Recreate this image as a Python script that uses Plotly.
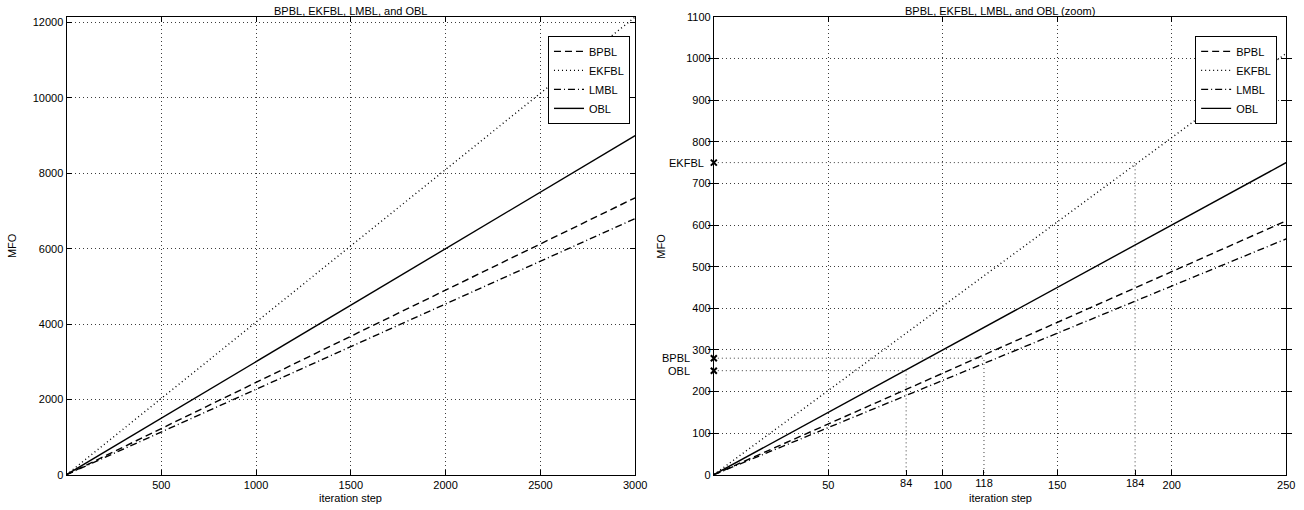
import plotly.graph_objects as go

# MFO per algorithm, sampled at iteration steps
steps = [0, 250, 500, 1000, 1500, 2000, 2500, 3000]
mfo_bpbl = [0, 610, 1225, 2450, 3675, 4900, 6125, 7350]
mfo_ekfbl = [0, 1012, 2025, 4050, 6075, 8100, 10125, 12150]
mfo_lmbl = [0, 567, 1133, 2267, 3400, 4533, 5667, 6800]
mfo_obl = [0, 750, 1500, 3000, 4500, 6000, 7500, 9000]

# reference levels marked on the zoomed panel (name, MFO level, iteration step)
ref_names = ["BPBL", "EKFBL", "OBL"]
ref_levels = [280, 750, 250]
ref_steps = [118, 184, 84]
ref_label_shift = [-22, -8, -22]

left_xticks = [500, 1000, 1500, 2000, 2500, 3000]
left_yticks = [0, 2000, 4000, 6000, 8000, 10000, 12000]
right_xticks = [50, 100, 150, 200, 250]
right_yticks = [0, 100, 200, 300, 400, 500, 600, 700, 800, 900, 1000, 1100]

FONT = "Liberation Sans, Arial, Helvetica, sans-serif"
GRID = "#3c3c3c"
GRID_DASH = "1px,3px"

series = [
    ("BPBL", mfo_bpbl, "7px,4px"),
    ("EKFBL", mfo_ekfbl, "1px,3px"),
    ("LMBL", mfo_lmbl, "7px,3px,1px,3px"),
    ("OBL", mfo_obl, "solid"),
]

fig = go.Figure()

for name, vals, dash in series:
    fig.add_trace(go.Scatter(
        x=steps, y=vals, mode="lines", name=name,
        line=dict(color="black", width=1.4, dash=dash),
        xaxis="x", yaxis="y", legend="legend",
    ))
for name, vals, dash in series:
    fig.add_trace(go.Scatter(
        x=steps, y=vals, mode="lines", name=name,
        line=dict(color="black", width=1.4, dash=dash),
        xaxis="x2", yaxis="y2", legend="legend2",
    ))

# drop lines from the y axis to each curve and down to the x axis
for name, lvl, st in zip(ref_names, ref_levels, ref_steps):
    fig.add_trace(go.Scatter(
        x=[0, st, st], y=[lvl, lvl, 0], mode="lines",
        line=dict(color=GRID, width=1, dash=GRID_DASH),
        xaxis="x2", yaxis="y2", showlegend=False, hoverinfo="skip",
    ))
    fig.add_trace(go.Scatter(
        x=[0], y=[lvl], mode="markers", cliponaxis=False,
        marker=dict(symbol="x-thin", size=6, line=dict(color="black", width=2)),
        xaxis="x2", yaxis="y2", showlegend=False, hoverinfo="skip",
    ))

axis_common = dict(
    showline=True, linecolor="black", linewidth=1, mirror="allticks",
    ticks="inside", ticklen=5, tickcolor="black",
    tickfont=dict(family=FONT, size=11, color="black"),
    zeroline=False, griddash=GRID_DASH, gridcolor=GRID, gridwidth=1,
    tickformat="d",
)

x1_dom = [0.0515, 0.4916]
x2_dom = [0.5525, 0.9955]
y_dom = [0.0588, 0.978]

fig.update_layout(
    width=1304, height=510,
    margin=dict(l=0, r=0, t=0, b=0),
    paper_bgcolor="white", plot_bgcolor="white",
    font=dict(family=FONT, size=11, color="black"),
    xaxis=dict(domain=x1_dom, range=[0, 3000], tickvals=left_xticks,
               showgrid=True, anchor="y", **axis_common),
    yaxis=dict(domain=y_dom, range=[0, 12150], tickvals=left_yticks,
               showgrid=True, anchor="x", **axis_common),
    xaxis2=dict(domain=x2_dom, range=[0, 250], tickvals=right_xticks,
                showgrid=True, anchor="y2", **axis_common),
    yaxis2=dict(domain=y_dom, range=[0, 1100], tickvals=right_yticks,
                showgrid=True, anchor="x2", **axis_common),
    xaxis3=dict(domain=x2_dom, range=[0, 250], tickvals=ref_steps,
                overlaying="x2", anchor="y2", side="bottom",
                showline=False, showgrid=False, zeroline=False,
                ticks="inside", ticklen=5, tickcolor="black",
                tickfont=dict(family=FONT, size=11, color="black")),
    legend=dict(x=x1_dom[1] - 0.004, xanchor="right", y=0.94, yanchor="top",
                bordercolor="black", borderwidth=1, bgcolor="white",
                font=dict(family=FONT, size=11), tracegroupgap=0,
                itemwidth=30),
    legend2=dict(x=x2_dom[1] - 0.007, xanchor="right", y=0.94, yanchor="top",
                 bordercolor="black", borderwidth=1, bgcolor="white",
                 font=dict(family=FONT, size=11), tracegroupgap=0,
                 itemwidth=30),
)

# invisible trace so the extra tick axis is drawn
fig.add_trace(go.Scatter(x=[0], y=[0], xaxis="x3", yaxis="y2", mode="markers",
                         marker=dict(opacity=0), showlegend=False, hoverinfo="skip"))

for dom, title in ((x1_dom, "BPBL, EKFBL, LMBL, and OBL"),
                   (x2_dom, "BPBL, EKFBL, LMBL, and OBL (zoom)")):
    fig.add_annotation(xref="paper", yref="paper", showarrow=False,
                       text=title, x=sum(dom) / 2, y=1.0, yshift=3,
                       xanchor="center", yanchor="top",
                       font=dict(family=FONT, size=11, color="black"))
    fig.add_annotation(xref="paper", yref="paper", showarrow=False,
                       text="iteration step", x=sum(dom) / 2, y=0.0, yshift=-2,
                       xanchor="center", yanchor="bottom",
                       font=dict(family=FONT, size=11, color="black"))

for xpos in (0.0095, 0.5115):
    fig.add_annotation(xref="paper", yref="paper", showarrow=False,
                       text="MFO", x=xpos, y=sum(y_dom) / 2, textangle=-90,
                       xanchor="center", yanchor="middle",
                       font=dict(family=FONT, size=11, color="black"))

for name, lvl, shift in zip(ref_names, ref_levels, ref_label_shift):
    fig.add_annotation(xref="x2", yref="y2", x=0, y=lvl, text=name,
                       showarrow=False, xanchor="right", yanchor="middle",
                       xshift=shift, font=dict(family=FONT, size=11, color="black"))

fig.write_html("out.html")
